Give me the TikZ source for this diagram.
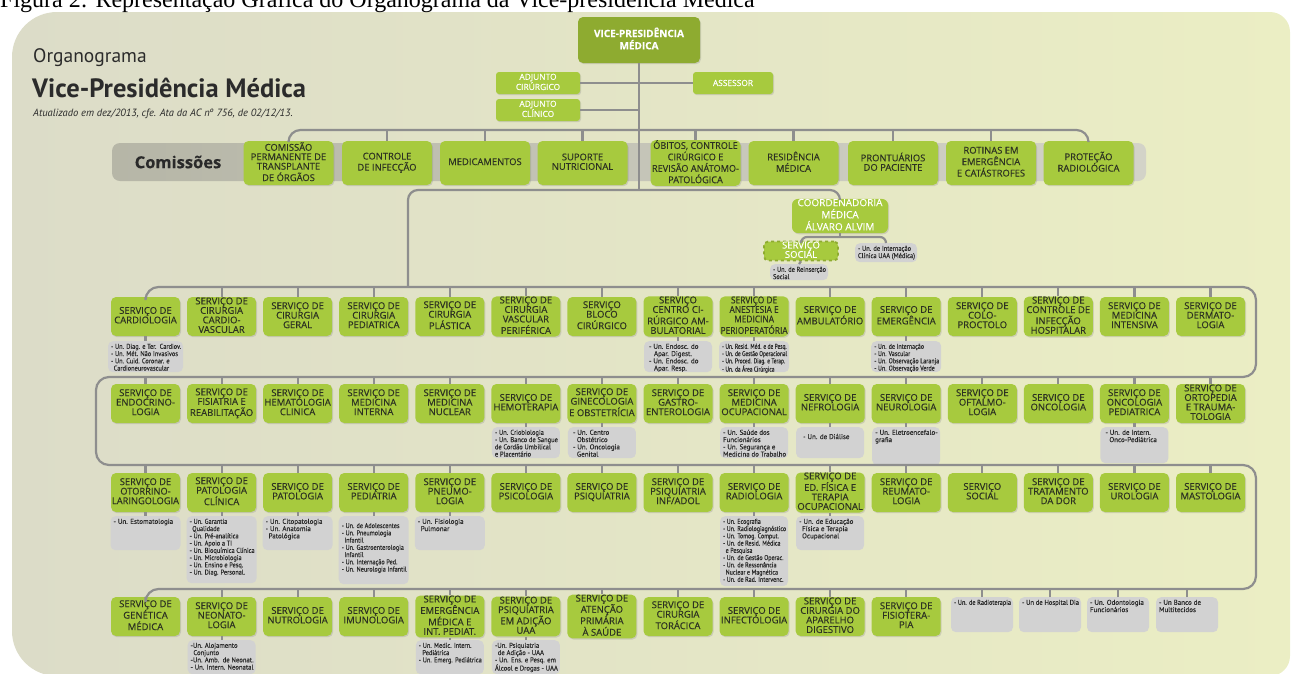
\documentclass[tikz,border=0pt]{standalone}
\usepackage{fontspec}
\setmainfont{PT Sans}
\newfontfamily\capfont{Liberation Serif}
\newfontfamily\bxf[FakeBold=0.35]{Open Sans}
\newfontfamily\utf[FakeBold=0.25]{PT Sans}
\usepackage{graphicx}
\usetikzlibrary{shadows}
\definecolor{lime}{HTML}{A7CA3E}
\definecolor{vpg}{HTML}{8EAB30}
\definecolor{dtext}{HTML}{2C3122}
\definecolor{ugray}{HTML}{D2D2D2}
\definecolor{utext}{HTML}{2A2A2A}
\definecolor{lgray}{HTML}{8E8E8E}
\definecolor{bgL}{HTML}{DCDCC8}
\definecolor{bgM}{HTML}{FAFAF2}
\definecolor{bgR}{HTML}{EBEEC4}
\definecolor{bandL}{HTML}{B6B6A7}
\definecolor{bandR}{HTML}{D3D3C8}
\definecolor{ttext}{HTML}{2B2B2B}
\newsavebox\fbx
\newlength\fw
\newcommand\fitc[2]{\setlength\fw{#1}\sbox\fbx{\begin{tabular}{@{}c@{}}#2\end{tabular}}\ifdim\wd\fbx>\fw\resizebox{\fw}{\height}{\usebox\fbx}\else\usebox\fbx\fi}
\newcommand\fitl[2]{\setlength\fw{#1}\sbox\fbx{\begin{tabular}{@{}l@{}}#2\end{tabular}}\ifdim\wd\fbx>\fw\resizebox{\fw}{\height}{\usebox\fbx}\else\usebox\fbx\fi}
\tikzset{
 conn/.style={draw=lgray, line width=2.2pt},
 gbox/.style={fill=lime, inner sep=0pt, drop shadow={shadow xshift=1pt, shadow yshift=-1.2pt, opacity=0.25}},
 svcbox/.style={gbox, rounded corners=5pt, minimum width=69pt, minimum height=39pt, text=dtext, font=\bxf\fontsize{9.5}{8.8}\selectfont},
 combox/.style={gbox, rounded corners=5pt, minimum width=90pt, minimum height=44pt, text=dtext, font=\bxf\fontsize{9.4}{8.9}\selectfont},
 adjbox/.style={gbox, rounded corners=3pt, minimum width=84pt, minimum height=22pt, text=white, font=\bxf\fontsize{8.4}{7.7}\selectfont},
 ubox/.style={fill=ugray, rounded corners=5pt, inner sep=0pt},
 utxt/.style={text=utext, inner sep=0pt, font=\utf\fontsize{7}{7.25}\selectfont},
}
\newcommand\svc[4]{\node[svcbox] (#1) at (#2,#3) {\fitc{67pt}{#4}};}
\newcommand\com[3]{\node[combox] (#1) at (#2,163) {\fitc{87pt}{#3}};}
\newcommand\unitbox[6]{\node[ubox, minimum width=#4pt, minimum height=#5pt, anchor=north] (#1) at (#2,#3) {};
 \node[utxt, anchor=north west] (#1t) at ([xshift=3pt,yshift=-2.5pt]#1.north west) {\fitl{\dimexpr#4pt-5pt\relax}{#6}};}
\begin{document}
\begin{tikzpicture}[x=1pt,y=-1pt]
\useasboundingbox (0,0) rectangle (1298,673);
\clip (0,0) rectangle (1298,673);
% background panel
\shade[left color=bgL, middle color=bgM, right color=bgR] (12,631) -- (12,57) arc[start angle=180,end angle=270,radius=45] -- (1270,12) arc[start angle=270,end angle=360,radius=20] -- (1290,656) arc[start angle=0,end angle=90,radius=20] -- (57,676) arc[start angle=90,end angle=180,radius=45] -- cycle;
% caption
\node[anchor=base west, inner sep=0pt, font=\capfont\fontsize{24}{24}\selectfont] (cap) at (0,7) {Figura 2: Representação Gráfica do Organograma da Vice-presidência Médica};
% titles
\node[anchor=base west, inner sep=0pt, text=ttext, font=\fontsize{19.5}{19.5}\selectfont] (t1) at (33,62) {Organograma};
\node[anchor=base west, inner sep=0pt, text=ttext, font=\bfseries\fontsize{26.5}{26.5}\selectfont] (t2) at (32,97) {Vice-Presidência Médica};
\node[anchor=base west, inner sep=0pt, text=ttext, font=\itshape\fontsize{10.5}{10.5}\selectfont] (t3) at (33,116) {Atualizado em dez/2013, cfe. Ata da AC nº 756, de 02/12/13.};
% commissions band
\shade[left color=bandL, right color=bandR, rounded corners=8pt] (112,143) rectangle (1146,181);
\node[text=utext, font=\bxf\bfseries\fontsize{16.5}{16.5}\selectfont, inner sep=0pt] (cm) at (178,162) {Comissões};
% coordinates on connectors
\coordinate (cb) at (0,130);
\coordinate (tb) at (0,190);
\coordinate (j1) at (408,287);
\coordinate (b1) at (0,287);
\coordinate (b2) at (0,377);
\coordinate (b3) at (0,465);
\coordinate (b4) at (0,589);
\coordinate (sb) at (0,237);
% top nodes
\node[gbox, fill=vpg, rounded corners=5pt, minimum width=122pt, minimum height=46pt, text=white, font=\bxf\bfseries\fontsize{10}{10}\selectfont] (vp) at (639,40) {\fitc{104pt}{VICE-PRESIDÊNCIA\\MÉDICA}};
\node[adjbox] (adjc) at (538,83) {\fitc{78pt}{ADJUNTO\\CIRÚRGICO}};
\node[adjbox] (adjl) at (538,110) {\fitc{78pt}{ADJUNTO\\CLÍNICO}};
\node[adjbox, minimum width=80pt] (ass) at (733,83) {ASSESSOR};
% commission boxes
\com{c1}{288.5}{COMISSÃO\\PERMANENTE DE\\TRANSPLANTE\\DE ÓRGÃOS}
\com{c2}{387}{CONTROLE\\DE INFECÇÃO}
\com{c3}{485}{MEDICAMENTOS}
\com{c4}{582.5}{SUPORTE\\NUTRICIONAL}
\com{c5}{695.5}{ÓBITOS, CONTROLE\\CIRÚRGICO E\\REVISÃO ANÁTOMO-\\PATOLÓGICA}
\com{c6}{793.5}{RESIDÊNCIA\\MÉDICA}
\com{c7}{893}{PRONTUÁRIOS\\DO PACIENTE}
\com{c8}{991}{ROTINAS EM\\EMERGÊNCIA\\E CATÁSTROFES}
\com{c9}{1088.5}{PROTEÇÃO\\RADIOLÓGICA}
% coordenadoria
\node[gbox, rounded corners=6pt, minimum width=96pt, minimum height=33pt, text=white, font=\bxf\fontsize{10}{9.2}\selectfont] (coord) at (840,216) {\fitc{88pt}{COORDENADORIA\\MÉDICA\\ÁLVARO ALVIM}};
\node[fill=lime, draw=vpg, dashed, line width=1.8pt, rounded corners=4pt, minimum width=74pt, minimum height=18pt, inner sep=0pt, text=white, font=\bxf\fontsize{9.5}{8.4}\selectfont] (ss) at (801,251) {\fitc{66pt}{SERVIÇO\\SOCIAL}};
\unitbox{u0a}{886}{243}{62}{19}{- Un. de Internação\\Clínica UAA (Médica)}
\unitbox{u0b}{799}{264}{58}{16}{- Un. de Reinserção\\Social}
% row 1
\svc{r1a}{145.5}{316.5}{SERVIÇO DE\\CARDIOLOGIA}
\svc{r1b}{221.6}{316.5}{SERVIÇO DE\\CIRURGIA\\CARDIO-\\VASCULAR}
\svc{r1c}{297.6}{316.5}{SERVIÇO DE\\CIRURGIA\\GERAL}
\svc{r1d}{373.7}{316.5}{SERVIÇO DE\\CIRURGIA\\PEDIATRICA}
\svc{r1e}{449.8}{316.5}{SERVIÇO DE\\CIRURGIA\\PLÁSTICA}
\svc{r1f}{525.9}{316.5}{SERVIÇO DE\\CIRURGIA\\VASCULAR\\PERIFÉRICA}
\svc{r1g}{601.9}{316.5}{SERVIÇO\\BLOCO\\CIRÚRGICO}
\svc{r1h}{678.0}{316.5}{SERVIÇO\\CENTRO CI-\\RÚRGICO AM-\\BULATORIAL}
\svc{r1i}{754.1}{316.5}{SERVIÇO DE\\ANESTESIA E\\MEDICINA\\PERIOPERATÓRIA}
\svc{r1j}{830.1}{316.5}{SERVIÇO DE\\AMBULATÓRIO}
\svc{r1k}{906.2}{316.5}{SERVIÇO DE\\EMERGÊNCIA}
\svc{r1l}{982.3}{316.5}{SERVIÇO DE\\COLO-\\PROCTOLO}
\svc{r1m}{1058.3}{316.5}{SERVIÇO DE\\CONTROLE DE\\INFECÇÃO\\HOSPITALAR}
\svc{r1n}{1134.4}{316.5}{SERVIÇO DE\\MEDICINA\\INTENSIVA}
\svc{r1o}{1210.5}{316.5}{SERVIÇO DE\\DERMATO-\\LOGIA}
% row 2
\svc{r2a}{145.5}{403.5}{SERVIÇO DE\\ENDOCRINO-\\LOGIA}
\svc{r2b}{221.6}{403.5}{SERVIÇO DE\\FISIATRIA E\\REABILITAÇÃO}
\svc{r2c}{297.6}{403.5}{SERVIÇO DE\\HEMATOLOGIA\\CLINICA}
\svc{r2d}{373.7}{403.5}{SERVIÇO  DE\\MEDICINA\\INTERNA}
\svc{r2e}{449.8}{403.5}{SERVIÇO DE\\MEDICINA\\NUCLEAR}
\svc{r2f}{525.9}{403.5}{SERVIÇO DE\\HEMOTERAPIA}
\svc{r2g}{601.9}{403.5}{SERVIÇO DE\\GINECOLOGIA\\E OBSTETRÍCIA}
\svc{r2h}{678.0}{403.5}{SERVIÇO DE\\GASTRO-\\ENTEROLOGIA}
\svc{r2i}{754.1}{403.5}{SERVIÇO DE\\MEDICINA\\OCUPACIONAL}
\svc{r2j}{830.1}{403.5}{SERVIÇO DE\\NEFROLOGIA}
\svc{r2k}{906.2}{403.5}{SERVIÇO DE\\NEUROLOGIA}
\svc{r2l}{982.3}{403.5}{SERVIÇO DE\\OFTALMO-\\LOGIA}
\svc{r2m}{1058.3}{403.5}{SERVIÇO DE\\ONCOLOGIA}
\svc{r2n}{1134.4}{403.5}{SERVIÇO DE\\ONCOLOGIA\\PEDIATRICA}
\svc{r2o}{1210.5}{403.5}{SERVIÇO DE\\ORTOPEDIA\\E TRAUMA-\\TOLOGIA}
% row 3
\svc{r3a}{145.5}{492.5}{SERVIÇO DE\\OTORRINO-\\LARINGOLOGIA}
\svc{r3b}{221.6}{492.5}{SERVIÇO DE\\PATOLOGIA\\CLÍNICA}
\svc{r3c}{297.6}{492.5}{SERVIÇO DE\\PATOLOGIA}
\svc{r3d}{373.7}{492.5}{SERVIÇO DE\\PEDIATRIA}
\svc{r3e}{449.8}{492.5}{SERVIÇO DE\\PNEUMO-\\LOGIA}
\svc{r3f}{525.9}{492.5}{SERVIÇO DE\\PSICOLOGIA}
\svc{r3g}{601.9}{492.5}{SERVIÇO DE\\PSIQUIATRIA}
\svc{r3h}{678.0}{492.5}{SERVIÇO DE\\PSIQUIATRIA\\INF/ADOL}
\svc{r3i}{754.1}{492.5}{SERVIÇO DE\\RADIOLOGIA}
\svc{r3j}{830.1}{492.5}{SERVIÇO DE\\ED. FÍSICA E\\TERAPIA\\OCUPACIONAL}
\svc{r3k}{906.2}{492.5}{SERVIÇO DE\\REUMATO-\\LOGIA}
\svc{r3l}{982.3}{492.5}{SERVIÇO\\SOCIAL}
\svc{r3m}{1058.3}{492.5}{SERVIÇO DE\\TRATAMENTO\\DA DOR}
\svc{r3n}{1134.4}{492.5}{SERVIÇO DE\\UROLOGIA}
\svc{r3o}{1210.5}{492.5}{SERVIÇO DE\\MASTOLOGIA}
% row 4
\svc{r4a}{145.5}{616.5}{SERVIÇO DE\\GENÉTICA\\MÉDICA}
\svc{r4b}{221.6}{616.5}{SERVIÇO DE\\NEONATO-\\LOGIA}
\svc{r4c}{297.6}{616.5}{SERVIÇO DE\\NUTROLOGIA}
\svc{r4d}{373.7}{616.5}{SERVIÇO DE\\IMUNOLOGIA}
\svc{r4e}{449.8}{616.5}{SERVIÇO DE\\EMERGÊNCIA\\MÉDICA E\\INT. PEDIAT.}
\svc{r4f}{525.9}{616.5}{SERVIÇO DE\\PSIQUIATRIA\\EM ADIÇÃO\\UAA}
\svc{r4g}{601.9}{616.5}{SERVIÇO DE\\ATENÇÃO\\PRIMÁRIA\\À SAÚDE}
\svc{r4h}{678.0}{616.5}{SERVIÇO DE\\CIRURGIA\\TORÁCICA}
\svc{r4i}{754.1}{616.5}{SERVIÇO DE\\INFECTOLOGIA}
\svc{r4j}{830.1}{616.5}{SERVIÇO DE\\CIRURGIA DO\\APARELHO\\DIGESTIVO}
\svc{r4k}{906.2}{616.5}{SERVIÇO DE\\FISIOTERA-\\PIA}
\unitbox{g4a}{982}{597}{62}{35}{- Un. de Radioterapia}
\unitbox{g4b}{1050}{597}{62}{35}{- Un de Hospital Dia}
\unitbox{g4c}{1118}{597}{62}{35}{- Un. Odontologia\\Funcionários}
\unitbox{g4d}{1187}{597}{62}{35}{- Un Banco de\\Multitecidos}
% unit boxes
\unitbox{u1a}{145.5}{341}{75}{31}{- Un. Diag. e Ter.\ \ Cardiov.\\- Un. Mét. Não Invasivos\\- Un. Cuid. Coronar. e\\\hspace*{3pt}Cardioneurovascular}
\unitbox{u1b}{678.0}{341}{68}{31}{\hspace*{2pt}- Un. Endosc. do\\\hspace*{7pt}Apar. Digest.\\\hspace*{2pt}- Un. Endosc. do\\\hspace*{7pt}Apar. Resp.}
\unitbox{u1c}{754.1}{341}{70}{31}{- Un. Resid. Méd. e de Pesq.\\- Un. de Gestão Operacional\\- Un. Proced. Diag. e Terap.\\- Un. da Área Cirúrgica}
\unitbox{u1d}{906.2}{341}{70}{31}{- Un. de Internação\\- Un. Vascular\\- Un. Observação Laranja\\- Un. Observação Verde}
\unitbox{u2a}{525.9}{427}{68}{31}{- Un. Criobiologia\\- Un. Banco de Sangue\\de Cordão Umbilical\\e Placentário}
\unitbox{u2b}{601.9}{427}{68}{31}{\hspace*{2pt}- Un. Centro\\\hspace*{6pt}Obstétrico\\\hspace*{2pt}- Un. Oncologia\\\hspace*{6pt}Genital}
\unitbox{u2c}{754.1}{427}{68}{31}{- Un. Saúde dos\\Funcionários\\- Un. Segurança e\\Medicina do Trabalho}
\unitbox{u2d}{830.1}{427}{68}{31}{\\[-3pt]\hspace*{4pt}- Un. de Diálise}
\unitbox{u2e}{906.2}{427}{68}{38}{- Un. Eletroencefalo-\\grafia}
\unitbox{u2f}{1134.4}{427}{68}{36}{\hspace*{2pt}- Un. de Intern.\\\hspace*{6pt}Onco-Pediátrica}
\unitbox{u3a}{145.5}{516}{70}{34}{- Un. Estomatologia}
\unitbox{u3b}{221.6}{516}{70}{67}{- Un. Garantia\\\hspace*{3pt}Qualidade\\- Un. Pré-analítica\\- Un. Apoio a TI\\- Un. Bioquímica Clínica\\- Un. Microbiologia\\- Un. Ensino e Pesq.\\- Un. Diag. Personal.}
\unitbox{u3c}{297.6}{516}{70}{34}{- Un. Citopatologia\\- Un. Anatomia\\\hspace*{3pt}Patológica}
\unitbox{u3d}{373.7}{516}{70}{68}{\\[-3pt]- Un. de Adolescentes\\- Un. Pneumologia\\\hspace*{3pt}Infantil\\- Un. Gastroenterologia\\\hspace*{3pt}Infantil\\- Un. Internação Ped.\\- Un. Neurologia Infantil}
\unitbox{u3e}{449.8}{516}{70}{34}{- Un. Fisiologia\\\hspace*{3pt}Pulmonar}
\unitbox{u3f}{754.1}{516}{68}{70}{- Un. Ecografia\\- Un. Radiologiagnóstico\\- Un. Tomog. Comput.\\- Un. de Resid. Médica\\\hspace*{3pt}e Pesquisa\\- Un. de Gestão Operac.\\- Un. de Ressonância\\\hspace*{3pt}Nuclear e Magnética\\- Un. de Rad. Intervenc.}
\unitbox{u3g}{830.1}{516}{68}{34}{- Un. de Educação\\\hspace*{3pt}Física e Terapia\\\hspace*{3pt}Ocupacional}
\unitbox{u4a}{221.6}{640}{68}{34}{-Un. Alojamento\\\hspace*{3pt}Conjunto\\-Un. Amb.\ \ de Neonat.\\- Un. Intern. Neonatal}
\unitbox{u4b}{449.8}{640}{68}{34}{- Un. Medic. Intern.\\\hspace*{4pt}Pediátrica\\- Un. Emerg. Pediátrica}
\unitbox{u4c}{525.9}{640}{68}{34}{-Un. Psiquiatria\\\hspace*{3pt}de Adição - UAA\\- Un. Ens. e Pesq. em\\Álcool e Drogas - UAA}
% connectors
\draw[conn] (vp.south) -- (vp.south |- tb);
\draw[conn] (adjc.east) -- (adjc.east -| vp.south);
\draw[conn] (adjl.east) -- (adjl.east -| vp.south);
\draw[conn] (ass.west) -- (ass.west -| vp.south);
\draw[conn, rounded corners=12pt] (c1.north) |- (c9.north |- cb) -- (c9.north);
\foreach \n in {c2,c3,c4,c5,c6,c7,c8} \draw[conn] (\n.north) -- (\n.north |- cb);
\draw[conn, rounded corners=10pt] (j1) |- (coord.north |- tb) -- (coord.north);
\draw[conn] (coord.south) -- (coord.south |- sb);
\draw[conn, rounded corners=6pt] (ss.north) |- (coord.south |- sb) -| (u0a.north);
\draw[conn] (ss.south) -- (u0b.north);
\draw[conn, rounded corners=13pt] (r1a.north) |- (1256,287) -- (1256,377) -- (96,377) -- (96,465) -- (1256,465) -- (1256,589) -| (r4a.north);
\foreach \n in {r1b,r1c,r1d,r1e,r1f,r1g,r1h,r1i,r1j,r1k,r1l,r1m,r1n,r1o} \draw[conn] (\n.north) -- (\n.north |- b1);
\foreach \n in {r2a,r2b,r2c,r2d,r2e,r2f,r2g,r2h,r2i,r2j,r2k,r2l,r2m,r2n,r2o} \draw[conn] (\n.north) -- (\n.north |- b2);
\foreach \n in {r3a,r3b,r3c,r3d,r3e,r3f,r3g,r3h,r3i,r3j,r3k,r3l,r3m,r3n,r3o} \draw[conn] (\n.north) -- (\n.north |- b3);
\foreach \n in {r4b,r4c,r4d,r4e,r4f,r4g,r4h,r4i,r4j,r4k,g4a,g4b,g4c,g4d} \draw[conn] (\n.north) -- (\n.north |- b4);
\foreach \a/\b in {r1a/u1a,r1h/u1b,r1i/u1c,r1k/u1d,r2f/u2a,r2g/u2b,r2i/u2c,r2j/u2d,r2k/u2e,r2n/u2f,r3a/u3a,r3b/u3b,r3c/u3c,r3d/u3d,r3e/u3e,r3i/u3f,r3j/u3g,r4b/u4a,r4e/u4b,r4f/u4c} \draw[conn] (\a.south) -- (\b.north);
\end{tikzpicture}
\end{document}
